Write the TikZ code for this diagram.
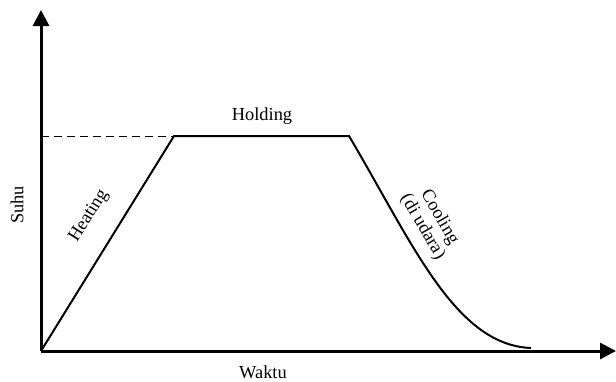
\documentclass[tikz,border=0pt]{standalone}
\usepackage{fontspec}
\setmainfont{Liberation Serif}
\usetikzlibrary{arrows.meta}
\begin{document}
\begin{tikzpicture}[x=0.5pt,y=-0.5pt,
  axis/.style={line width=1.5pt,-{Triangle[length=8pt,width=8pt]}},
  curve/.style={line width=1pt,line join=miter},
  lbl/.style={font=\fontsize{9.2}{9.8}\selectfont,inner sep=1pt,align=center}]
\useasboundingbox (0,0) rectangle (616,381);
\coordinate (O) at (41,351);
\coordinate (ytop) at (41,10);
\coordinate (xend) at (616,351);
\coordinate (A) at (174,136);
\coordinate (B) at (349,136);
\coordinate (C) at (531,348);
\draw[axis] (O) -- (ytop);
\draw[axis] (O) -- (xend);
\draw[dashed,line width=0.5pt,dash pattern=on 4pt off 2.5pt] (O|-A) -- (A);
\draw[curve] (O) -- (A) -- (B) .. controls (413,244) and (455,345) .. (C);
\node[lbl] (holding) at (262,116) {Holding};
\node[lbl,rotate=58] (heating) at (89,216) {Heating};
\node[lbl,rotate=-60] (cooling) at (431,222) {Cooling\\(di udara)};
\node[lbl,rotate=90] (suhu) at (17,205) {Suhu};
\node[lbl] (waktu) at (263,372) {Waktu};
\end{tikzpicture}
\end{document}
